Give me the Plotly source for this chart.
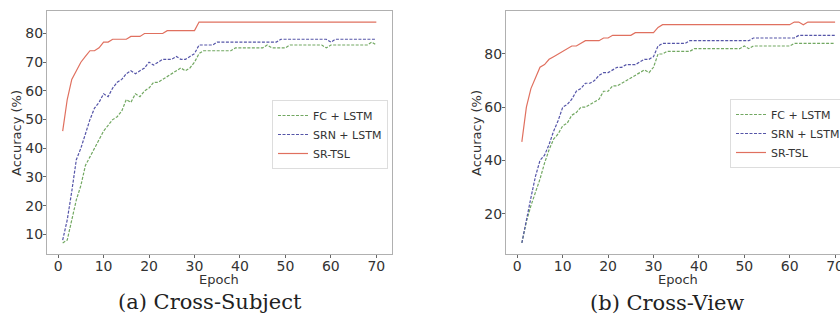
import plotly.graph_objects as go

epochs = list(range(1, 71))

# (a) Cross-Subject
cs_fc = [7, 8, 15, 22, 27, 34, 37, 40, 43, 46, 48, 50, 51, 53, 57, 56, 59, 58, 60, 61,
         63, 63, 64, 65, 66, 67, 68, 67, 68, 70, 73, 74, 74, 74, 74, 74, 74, 74, 75, 75,
         75, 75, 75, 75, 75, 76, 75, 75, 75, 75, 76, 76, 76, 76, 76, 76, 76, 76, 75, 76,
         76, 76, 76, 76, 76, 76, 76, 76, 77, 76]
cs_srn = [8, 15, 25, 36, 40, 45, 50, 54, 56, 59, 58, 61, 63, 64, 66, 67, 66, 67, 68, 70,
          69, 70, 71, 71, 71, 72, 71, 71, 72, 73, 76, 76, 76, 76, 77, 77, 77, 77, 77, 77,
          77, 77, 77, 77, 77, 77, 77, 77, 78, 78, 78, 78, 78, 78, 78, 78, 78, 78, 78, 77,
          78, 78, 78, 78, 78, 78, 78, 78, 78, 78]
cs_srtsl = [46, 57, 64, 67, 70, 72, 74, 74, 75, 77, 77, 78, 78, 78, 78, 79, 79, 79, 80, 80,
            80, 80, 80, 81, 81, 81, 81, 81, 81, 81, 84, 84, 84, 84, 84, 84, 84, 84, 84, 84,
            84, 84, 84, 84, 84, 84, 84, 84, 84, 84, 84, 84, 84, 84, 84, 84, 84, 84, 84, 84,
            84, 84, 84, 84, 84, 84, 84, 84, 84, 84]

# (b) Cross-View
cv_fc = [9, 17, 23, 28, 33, 39, 44, 48, 50, 53, 54, 57, 58, 60, 60, 61, 62, 63, 66, 66,
         68, 68, 69, 70, 71, 72, 73, 74, 73, 75, 80, 80, 81, 81, 81, 81, 81, 81, 82, 82,
         82, 82, 82, 82, 82, 82, 82, 82, 82, 83, 82, 83, 83, 83, 83, 83, 83, 83, 83, 83,
         84, 84, 84, 84, 84, 84, 84, 84, 84, 84]
cv_srn = [9, 18, 26, 34, 40, 42, 46, 51, 55, 60, 61, 63, 66, 67, 69, 69, 70, 72, 73, 73,
          74, 75, 75, 76, 76, 76, 77, 78, 78, 79, 83, 84, 84, 84, 84, 84, 84, 85, 85, 85,
          85, 85, 85, 85, 85, 85, 85, 85, 85, 85, 85, 86, 86, 86, 86, 86, 86, 86, 86, 86,
          86, 87, 87, 87, 87, 87, 87, 87, 87, 87]
cv_srtsl = [47, 60, 67, 71, 75, 76, 78, 79, 80, 81, 82, 83, 83, 84, 85, 85, 85, 85, 86, 86,
            87, 87, 87, 87, 87, 88, 88, 88, 88, 88, 90, 91, 91, 91, 91, 91, 91, 91, 91, 91,
            91, 91, 91, 91, 91, 91, 91, 91, 91, 91, 91, 91, 91, 91, 91, 91, 91, 91, 91, 91,
            92, 92, 91, 92, 92, 92, 92, 92, 92, 92]

series_names = ["FC + LSTM", "SRN + LSTM", "SR-TSL"]
captions = ["(a) Cross-Subject", "(b) Cross-View"]
x_title = "Epoch"
y_title = "Accuracy (%)"
x_ticks = [0, 10, 20, 30, 40, 50, 60, 70]
cs_y_ticks = [10, 20, 30, 40, 50, 60, 70, 80]
cv_y_ticks = [20, 40, 60, 80]

colors = ["#72a862", "#5555a8", "#e0705f"]
dashes = ["3px,1.5px", "3px,1.5px", "solid"]

W, H = 840, 322
def px_x(p):
    return p / W
def px_y(p):
    return 1 - p / H

fig = go.Figure()

panels = [
    (cs_fc, cs_srn, cs_srtsl, "x", "y", "legend"),
    (cv_fc, cv_srn, cv_srtsl, "x2", "y2", "legend2"),
]
for fc, srn, srtsl, xa, ya, lg in panels:
    for name, vals, c, d in zip(series_names, [fc, srn, srtsl], colors, dashes):
        fig.add_trace(go.Scatter(x=epochs, y=vals, mode="lines", name=name,
                                 line=dict(color=c, width=1.2, dash=d),
                                 xaxis=xa, yaxis=ya, legend=lg))

ax_common = dict(showline=True, linecolor="#b0b0b0", linewidth=1, mirror=True,
                 showgrid=False, zeroline=False, ticks="outside", ticklen=3,
                 tickcolor="#666", tickfont=dict(family="DejaVu Sans", size=14, color="#333"),
                 automargin=False, ticklabeloverflow="allow")
x_extra = dict(ticklabelstandoff=-4)
y_extra = dict(ticklabelstandoff=-3)
title_font = dict(family="DejaVu Sans", size=13, color="#333")

ydom = [px_y(254), px_y(11)]
legend_font = dict(family="DejaVu Sans", size=11, color="#333")
fig.update_layout(
    width=W, height=H,
    margin=dict(l=0, r=0, t=0, b=0, autoexpand=False),
    paper_bgcolor="white", plot_bgcolor="white",
    xaxis=dict(domain=[px_x(47), px_x(392)], range=[-2.45, 73.45], tickvals=x_ticks,
               anchor="y", **ax_common, **x_extra),
    yaxis=dict(domain=ydom, range=[3.15, 87.85], tickvals=cs_y_ticks, anchor="x",
               **ax_common, **y_extra),
    xaxis2=dict(domain=[px_x(506), 1.0], range=[-2.49, 71.08], tickvals=x_ticks,
                anchor="y2", **ax_common, **x_extra),
    yaxis2=dict(domain=ydom, range=[4.85, 96.15], tickvals=cv_y_ticks, anchor="x2",
                **ax_common, **y_extra),
    legend=dict(x=px_x(272), y=px_y(100), xanchor="left", yanchor="top",
                bgcolor="rgba(255,255,255,0.9)", bordercolor="#dddddd", borderwidth=1,
                font=legend_font, tracegroupgap=0, itemwidth=30),
    legend2=dict(x=px_x(730), y=px_y(99), xanchor="left", yanchor="top",
                 bgcolor="rgba(255,255,255,0.9)", bordercolor="#dddddd", borderwidth=1,
                 font=legend_font, tracegroupgap=0, itemwidth=30),
    showlegend=True,
)

ann = dict(xref="paper", yref="paper", showarrow=False, xanchor="center", yanchor="middle")
# axis titles
for cx in [219, 678]:
    fig.add_annotation(text=x_title, x=px_x(cx), y=px_y(279), font=title_font, **ann)
for cx in [16, 476]:
    fig.add_annotation(text=y_title, x=px_x(cx), y=px_y(133), textangle=-90,
                       font=title_font, **ann)

# captions
cap_font = dict(family="DejaVu Serif", size=21, color="#222")
fig.add_annotation(text=captions[0], x=px_x(210), y=px_y(302), font=cap_font, **ann)
fig.add_annotation(text=captions[1], x=px_x(667), y=px_y(303), font=cap_font, **ann)

fig.write_html("out.html", config={"displayModeBar": False},
               post_script="document.body.style.margin='0';document.body.style.overflow='hidden';")
